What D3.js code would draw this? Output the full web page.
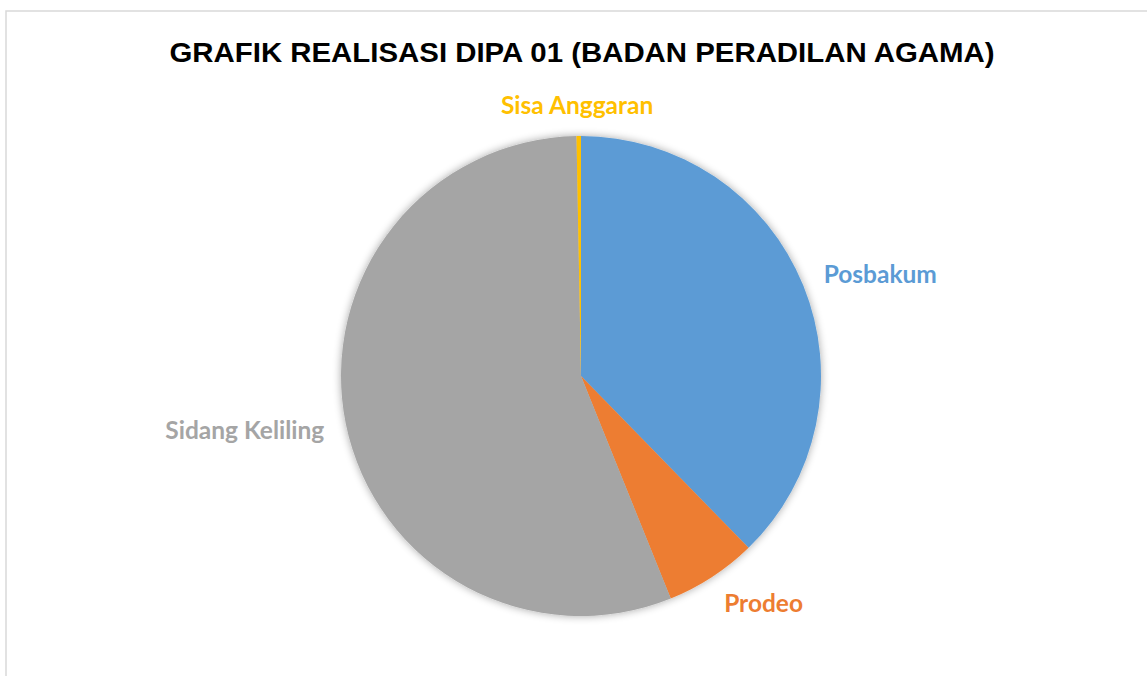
<!DOCTYPE html>
<html><head><meta charset="utf-8">
<script src="https://cdn.jsdelivr.net/npm/d3@7"></script>
<style>body{margin:0;background:#fff;}svg{display:block;}</style>
</head><body>
<svg id="c" width="1147" height="676"></svg>
<script>
const categories = ["Posbakum", "Prodeo", "Sidang Keliling", "Sisa Anggaran"];
const values = [37.7, 6.2, 55.8, 0.3];
const colors = ["#5b9bd5", "#ed7d31", "#a5a5a5", "#ffc000"];
const title = "GRAFIK REALISASI DIPA 01 (BADAN PERADILAN AGAMA)";

const svg = d3.select("#c");
svg.append("rect").attr("x",6).attr("y",11).attr("width",1160).attr("height",700)
  .attr("fill","#fff").attr("stroke","#d9d9d9").attr("stroke-width",1.5);

const defs = svg.append("defs");
const f = defs.append("filter").attr("id","sh").attr("x","-20%").attr("y","-20%").attr("width","140%").attr("height","140%");
f.append("feGaussianBlur").attr("in","SourceAlpha").attr("stdDeviation",4).attr("result","b");
f.append("feComponentTransfer").attr("in","b").attr("result","o2").append("feFuncA").attr("type","linear").attr("slope",0.35);
const m = f.append("feMerge"); m.append("feMergeNode").attr("in","o2"); m.append("feMergeNode").attr("in","SourceGraphic");

svg.append("text").attr("x",582).attr("y",62).attr("text-anchor","middle")
  .attr("font-family","Liberation Sans, Arial, sans-serif").attr("font-weight","bold").attr("font-size",28)
  .attr("fill","#000").attr("textLength",825).attr("lengthAdjust","spacingAndGlyphs").text(title);

const cx = 581, cy = 376, R = 240;
const pie = d3.pie().sort(null).value(d=>d)(values);
const arc = d3.arc().innerRadius(0).outerRadius(R);
const color = d3.scaleOrdinal().domain(categories).range(colors);
const g = svg.append("g").attr("transform",`translate(${cx},${cy})`);
g.append("g").attr("filter","url(#sh)").selectAll("path").data(pie).join("path")
  .attr("d",arc).attr("fill",(d,i)=>color(categories[i]));

const fs = 24.5, capH = 0.72*fs, gap = 22;
const clamp = v => Math.max(-1, Math.min(1, v));
pie.forEach((d,i)=>{
  const t = g.append("text").attr("font-family","Lato, Carlito, sans-serif").attr("font-weight","bold")
    .attr("font-size",fs).attr("fill",color(categories[i])).attr("text-anchor","middle")
    .text(categories[i]);
  const w = t.node().getComputedTextLength();
  const a = (d.startAngle+d.endAngle)/2;
  const s = Math.sin(a), c = Math.cos(a);
  const ax = s*(R+gap), ay = -c*(R+gap);
  const x = ax + clamp(2*s)*w/2;
  const yc = ay - c*capH/2;
  t.attr("x", x).attr("y", yc + capH/2);
});
</script>
</body></html>
